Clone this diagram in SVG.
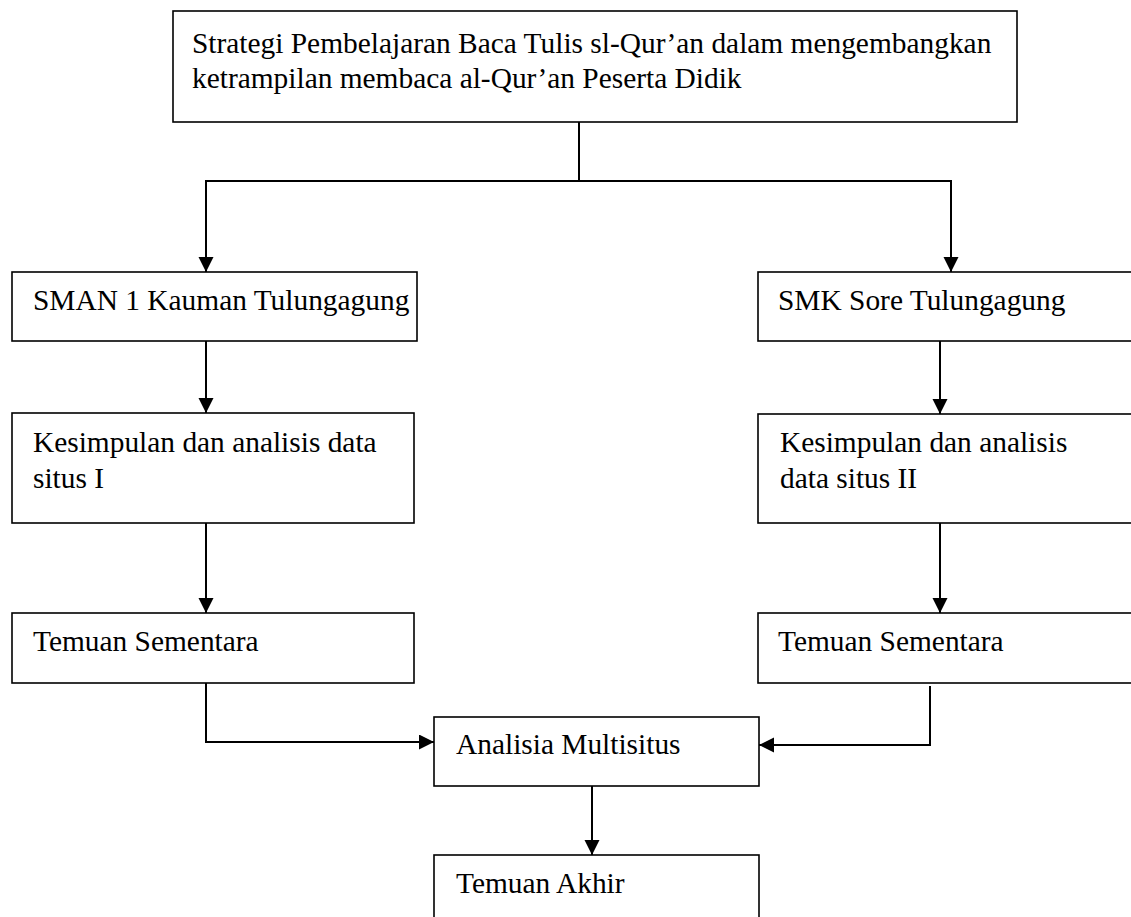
<svg xmlns="http://www.w3.org/2000/svg" width="1131" height="917" viewBox="0 0 1131 917">
<defs>
<marker id="arr" markerUnits="userSpaceOnUse" markerWidth="16" markerHeight="16" refX="15" refY="7.5" orient="auto">
<path d="M0,0 L15,7.5 L0,15 Z" fill="#000"/>
</marker>
<style>
.box{fill:#fff;stroke:#000;stroke-width:1.6}
.t{font-family:"Liberation Serif","Times New Roman",serif;font-size:29.4px;fill:#000}
.c{fill:none;stroke:#000;stroke-width:2}
</style>
</defs>
<rect width="1131" height="917" fill="#fff"/>
<g id="connectors">
<path class="c" d="M579,122 V181"/>
<path class="c" d="M579,181 H206 V272" marker-end="url(#arr)"/>
<path class="c" d="M579,181 H951 V272" marker-end="url(#arr)"/>
<path class="c" d="M206,341 V413" marker-end="url(#arr)"/>
<path class="c" d="M940,341 V414" marker-end="url(#arr)"/>
<path class="c" d="M206,523 V613" marker-end="url(#arr)"/>
<path class="c" d="M940,523 V613" marker-end="url(#arr)"/>
<path class="c" d="M206,683 V742 H434" marker-end="url(#arr)"/>
<path class="c" d="M930,686 V745 H759" marker-end="url(#arr)"/>
<path class="c" d="M592,786 V855" marker-end="url(#arr)"/>
</g>
<g id="top">
<rect class="box" x="173" y="11" width="844" height="111"/>
<text class="t" x="192" y="53">Strategi Pembelajaran Baca Tulis sl-Qur’an dalam mengembangkan</text>
<text class="t" x="192" y="88">ketrampilan membaca al-Qur’an Peserta Didik</text>
</g>
<g id="sman">
<rect class="box" x="12" y="272" width="405" height="69"/>
<text class="t" x="33" y="310">SMAN 1 Kauman Tulungagung</text>
</g>
<g id="smk">
<rect class="box" x="758" y="272" width="390" height="69"/>
<text class="t" x="778" y="310">SMK Sore Tulungagung</text>
</g>
<g id="kes1">
<rect class="box" x="12" y="413" width="402" height="110"/>
<text class="t" x="33" y="452">Kesimpulan dan analisis data</text>
<text class="t" x="33" y="488">situs I</text>
</g>
<g id="kes2">
<rect class="box" x="758" y="414" width="390" height="109"/>
<text class="t" x="780" y="452">Kesimpulan dan analisis</text>
<text class="t" x="780" y="488">data situs II</text>
</g>
<g id="tem1">
<rect class="box" x="12" y="613" width="402" height="70"/>
<text class="t" x="33" y="651">Temuan Sementara</text>
</g>
<g id="tem2">
<rect class="box" x="758" y="613" width="390" height="70"/>
<text class="t" x="778" y="651">Temuan Sementara</text>
</g>
<g id="multi">
<rect class="box" x="434" y="717" width="325" height="69"/>
<text class="t" x="456" y="754">Analisia Multisitus</text>
</g>
<g id="akhir">
<rect class="box" x="434" y="855" width="325" height="80"/>
<text class="t" x="456" y="893">Temuan Akhir</text>
</g>
</svg>
